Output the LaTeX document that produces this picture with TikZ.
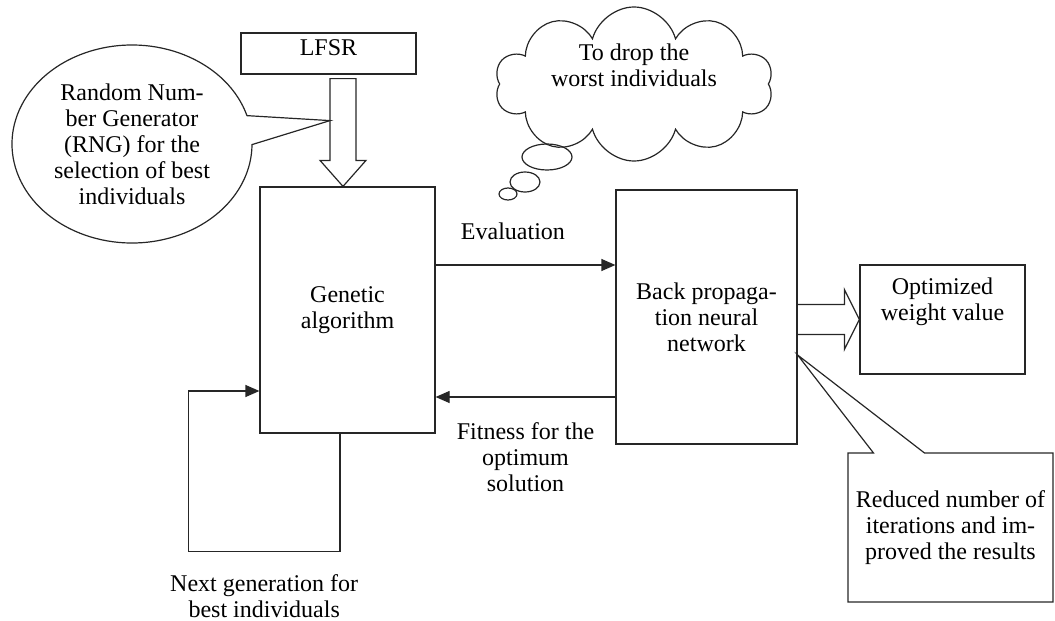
\documentclass[tikz,border=0pt]{standalone}
\usepackage{fontspec}
\setmainfont{Liberation Serif}
\usetikzlibrary{shapes.geometric,shapes.symbols,shapes.callouts,arrows.meta,positioning,calc}

\begin{document}
\begin{tikzpicture}[
    x=0.5pt, y=-0.5pt,
    every node/.style={font=\fontsize{12}{13}\selectfont, align=center},
    box/.style={rectangle, draw=black!85, line width=0.6pt, inner sep=2pt},
    speech/.style={ellipse callout, draw=black!85, line width=0.6pt, inner sep=0pt, callout pointer arc=17},
    note/.style={rectangle callout, draw=black!85, line width=0.6pt, callout pointer width=25.5pt},
    thought/.style={cloud, cloud puffs=10, cloud ignores aspect, draw=black!85, line width=0.6pt, inner sep=0pt},
    puff/.style={ellipse, draw=black!85, line width=0.6pt, inner sep=0pt},
    line/.style={-{Triangle[length=7pt,width=6pt]}, line width=0.6pt, draw=black!85},
    hollow/.style={draw=black!85, line width=0.6pt, line join=miter}
]
    \useasboundingbox (0,0) rectangle (1055,621);

    \node[box, minimum width=87.5pt, minimum height=20.5pt, text depth=6pt] (lfsr) at (328.5,53.5) {LFSR};
    \node[box, minimum width=87.5pt, minimum height=123pt] (ga) at (347.5,310) {Genetic\\algorithm};
    \node[box, minimum width=90.5pt, minimum height=127pt] (bp) at (706.5,317) {Back propaga-\\tion neural\\network};
    \node[box, minimum width=82.5pt, minimum height=54.5pt] (opt) at (942.5,319.5) {Optimized\\weight value\\[7.5pt]~};

    \coordinate (rngtop) at ($(lfsr.south)+(14.5,4)$);
    \coordinate (rngtip) at (rngtop |- ga.north);
    \draw[hollow] ($(rngtop)+(-13,0)$) -- ($(rngtop)+(13,0)$) -- ($(rngtip)+(13,-26)$) -- ($(rngtip)+(23,-26)$) -- (rngtip) -- ($(rngtip)+(-23,-26)$) -- ($(rngtip)+(-13,-26)$) -- cycle;

    \node[speech, minimum width=120pt, minimum height=99pt, callout absolute pointer={($(rngtop)+(-13,42)$)}] (rng) at (132,144) {Random Num-\\ber Generator\\(RNG) for the\\selection of best\\individuals};

    \node[thought, minimum width=139pt, minimum height=77pt, label={[yshift=9.5pt]center:To drop the\\worst individuals}] (drop) at (634,84) {};
    \node[puff, minimum width=25pt, minimum height=13pt] (puffa) at (547,157) {};
    \node[puff, minimum width=15pt, minimum height=10pt] (puffb) at (525,182) {};
    \node[puff, minimum width=9pt, minimum height=6pt] (puffc) at (508,194) {};

    \node[note, minimum width=102.5pt, minimum height=74.5pt, callout absolute pointer={($(bp.east)+(0,38)$)}] (fewer) at (950.5,527.5) {Reduced number of\\iterations and im-\\proved the results};

    \coordinate (opttail) at (bp.east |- opt.west);
    \draw[hollow] ($(opttail)+(0,-15)$) -- ($(opt.west)+(-15,-15)$) -- ($(opt.west)+(-15,-30)$) -- (opt.west) -- ($(opt.west)+(-15,30)$) -- ($(opt.west)+(-15,15)$) -- ($(opttail)+(0,15)$);

    \coordinate (evalout) at ($(ga.east)+(0,-45)$);
    \draw[line] (evalout) -- (evalout -| bp.west) node[pos=0.43, above=9pt] {Evaluation};
    \coordinate (fitout) at ($(bp.west)+(0,80)$);
    \draw[line] (fitout) -- (fitout -| ga.east) node[midway, below=9pt] {Fitness for the\\optimum\\solution};
    \coordinate (loopin) at ($(ga.west)+(0,81)$);
    \draw[line] ($(ga.south)+(-7.5,0)$) -- ++(0,118) -| ($(loopin)+(-71,0)$) node[pos=0.25, below=8pt] {Next generation for\\best individuals} -- (loopin);
\end{tikzpicture}
\end{document}
